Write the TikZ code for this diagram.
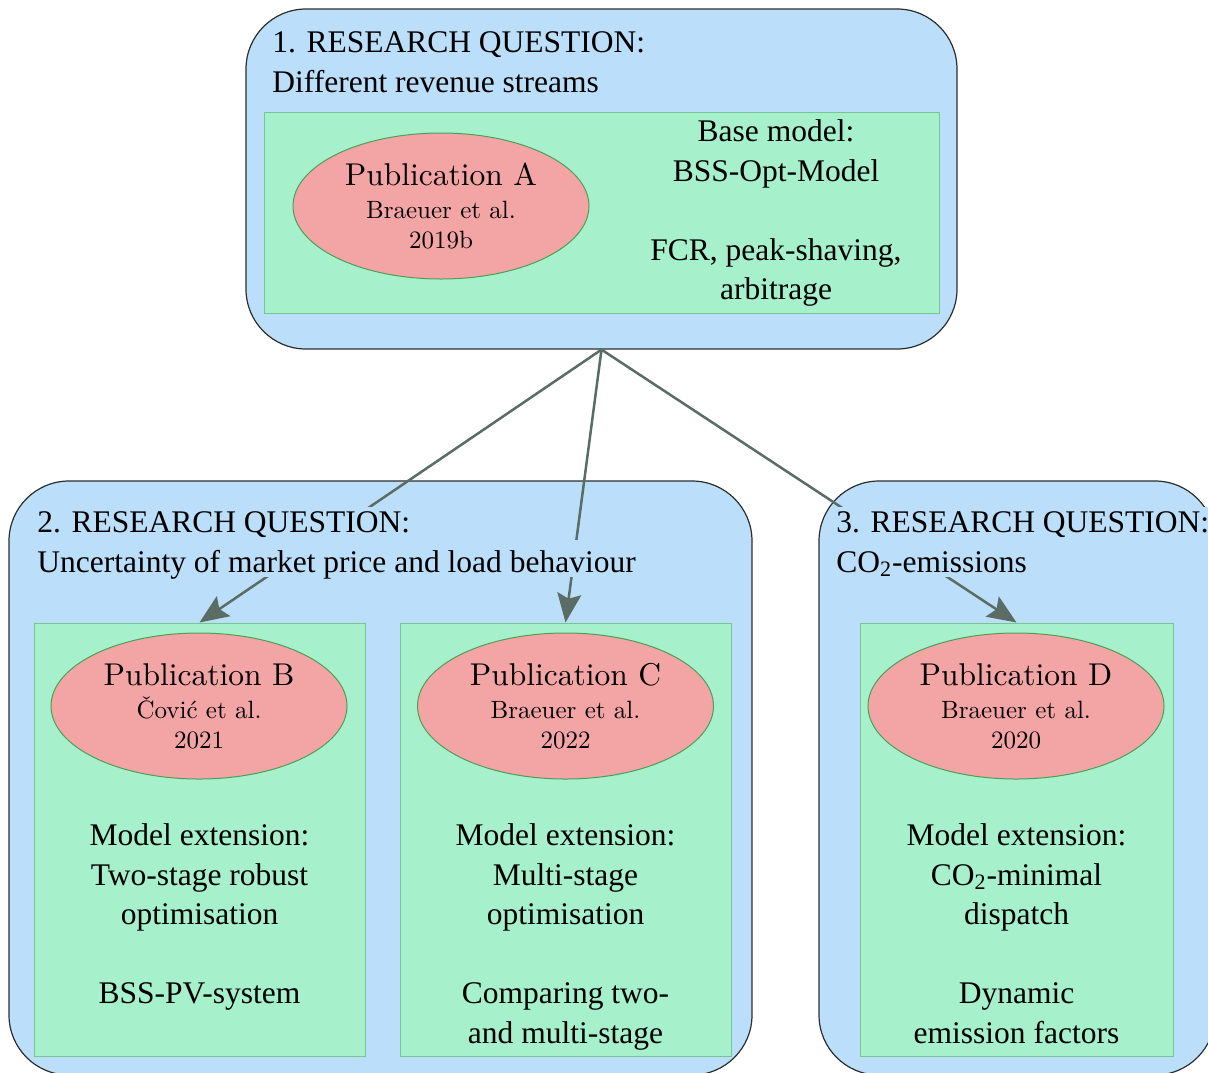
\documentclass[tikz,border=0pt]{standalone}
\usepackage{fontspec}
\setmainfont{Liberation Serif}
\newfontfamily\lmfont{lmroman10-regular.otf}
\usetikzlibrary{arrows.meta,shapes.geometric}

\definecolor{qfill}{RGB}{187,223,250}
\definecolor{qline}{RGB}{45,45,45}
\definecolor{gfill}{RGB}{166,240,204}
\definecolor{gline}{RGB}{118,198,146}
\definecolor{pfill}{RGB}{243,164,164}
\definecolor{pline}{RGB}{78,158,88}
\definecolor{arrowc}{RGB}{90,108,100}

\begin{document}
\begin{tikzpicture}[x=0.5pt,y=-0.5pt,
  question/.style={draw=qline, fill=qfill, line width=0.6pt,
    rounded corners=30pt, inner sep=0pt},
  panel/.style={draw=gline, fill=gfill, line width=0.5pt, inner sep=0pt},
  pub/.style={ellipse, draw=pline, fill=pfill, line width=0.5pt,
    minimum width=148pt, minimum height=73pt, inner sep=0pt, align=center,
    font=\lmfont\fontsize{12.5}{15}\selectfont},
  note/.style={align=center, anchor=north, inner sep=0pt,
    font=\fontsize{15.75}{19.75}\selectfont},
  headtop/.style={anchor=base west, inner sep=0pt, fill=qfill,
    text height=12.5pt, text depth=4pt, font=\fontsize{15.75}{19.75}\selectfont},
  headsub/.style={anchor=base west, inner sep=0pt, fill=qfill,
    text height=16pt, text depth=2.5pt, font=\fontsize{15.75}{19.75}\selectfont},
  link/.style={draw=arrowc, line width=1.25pt,
    -{Stealth[length=14.5pt,width=12pt,inset=2.5pt]}}
]
\useasboundingbox (0,0) rectangle (1208,1072);
\clip (0,0) rectangle (1208,1072);

% research question frames
\node[question, minimum width=355.5pt, minimum height=170pt] (q1) at (601.5,179) {};
\node[question, minimum width=371.5pt, minimum height=297pt] (q2) at (380.5,778) {};
\node[question, minimum width=198pt, minimum height=297pt] (q3) at (1017,778) {};

% publication panels
\node[panel, minimum width=337.5pt, minimum height=100.5pt] (gA) at (601.5,212.5) {};
\node[panel, minimum width=165.5pt, minimum height=216.5pt] (gB) at (199.5,839.5) {};
\node[panel, minimum width=165.5pt, minimum height=216.5pt] (gC) at (565.5,839.5) {};
\node[panel, minimum width=156.5pt, minimum height=216.5pt] (gD) at (1016.5,839.5) {};

% publications
\node[pub] (pA) at (441,206) {{\fontsize{15.75}{18}\selectfont Publication A}\\[1.5pt]Braeuer et al.\\2019b};
\node[pub] (pB) at (199,706) {{\fontsize{15.75}{18}\selectfont Publication B}\\[1.5pt]Čović et al.\\2021};
\node[pub] (pC) at (565.5,706) {{\fontsize{15.75}{18}\selectfont Publication C}\\[1.5pt]Braeuer et al.\\2022};
\node[pub] (pD) at (1016,706) {{\fontsize{15.75}{18}\selectfont Publication D}\\[1.5pt]Braeuer et al.\\2020};

% model descriptions
\node[note] (nA) at (776,119.5) {Base model:\\BSS-Opt-Model\\[19.75pt]FCR, peak-shaving,\\arbitrage};
\node[note] (nB) at (199.5,823.5) {Model extension:\\Two-stage robust\\optimisation\\[19.75pt]BSS-PV-system};
\node[note] (nC) at (565.5,823.5) {Model extension:\\Multi-stage\\optimisation\\[19.75pt]Comparing two-\\and multi-stage};
\node[note] (nD) at (1016.5,823.5) {Model extension:\\CO\textsubscript{2}-minimal\\dispatch\\[19.75pt]Dynamic\\emission factors};

% links from the base question to the extensions
\draw[link] (q1.south) -- (gB.north);
\draw[link] (q1.south) -- (gC.north);
\draw[link] (q1.south) -- (gD.north);

% question headings
\node[headtop] (h1a) at (272,52.5) {1. RESEARCH QUESTION:};
\node[headsub] (h1b) at (272,92.5) {Different revenue streams};
\node[headtop] (h2a) at (37,532) {2. RESEARCH QUESTION:};
\node[headsub] (h2b) at (37,572) {Uncertainty of market price and load behaviour};
\node[headtop] (h3a) at (836,532) {3. RESEARCH QUESTION:};
\node[headsub] (h3b) at (836,572) {CO\textsubscript{2}-emissions};
\end{tikzpicture}
\end{document}
